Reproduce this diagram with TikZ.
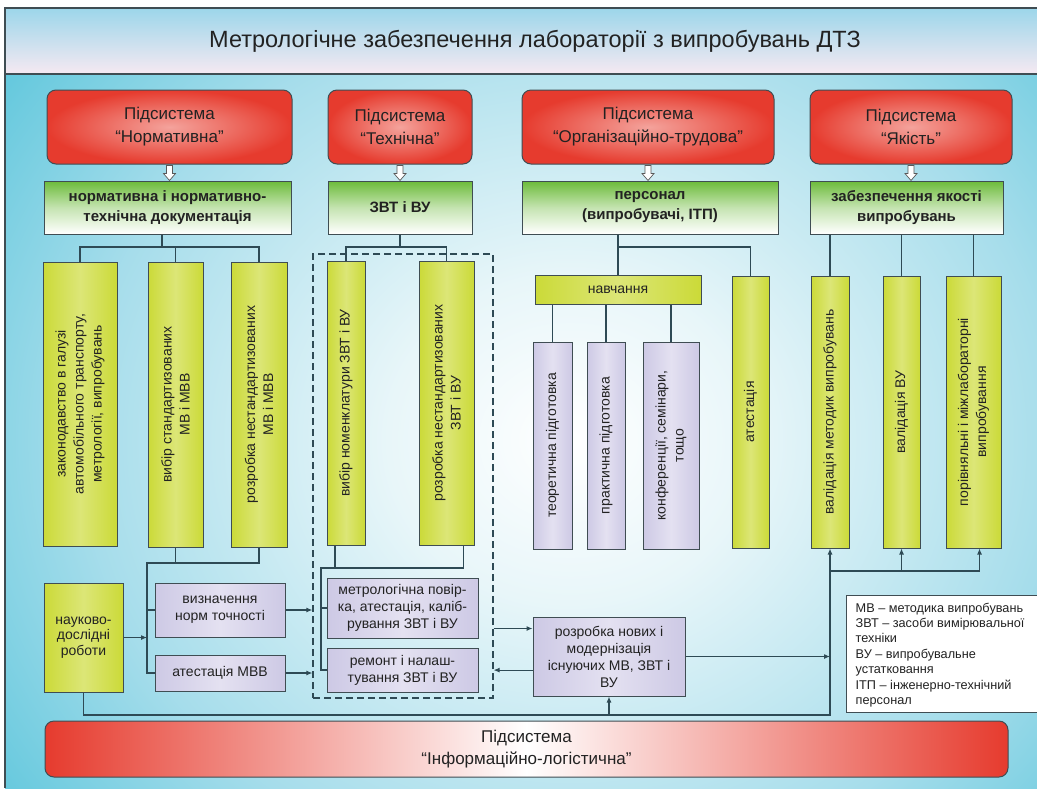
\documentclass[tikz,border=0pt]{standalone}
\usepackage{fontspec}
\setmainfont{Liberation Sans}
\usetikzlibrary{arrows.meta,calc}

\definecolor{bgc}{HTML}{50C2D9}
\definecolor{glowa}{HTML}{E8F6F9}
\definecolor{glowb}{HTML}{A6DDEB}
\definecolor{lnc}{HTML}{2E4A55}
\definecolor{bdc}{HTML}{3F4D53}
\definecolor{txt}{HTML}{222222}
\definecolor{ttop}{HTML}{9CD6EA}
\definecolor{tbot}{HTML}{F6E9F2}
\definecolor{redin}{HTML}{F4A39C}
\definecolor{redout}{HTML}{E63B2E}
\definecolor{grn}{HTML}{6CBB3A}
\definecolor{yel}{HTML}{CBDA38}
\definecolor{yelmid}{HTML}{DCE677}
\definecolor{pur}{HTML}{CDC9E5}
\definecolor{purmid}{HTML}{E4E1F1}

\pgfdeclareradialshading{glow}{\pgfpoint{0bp}{0bp}}{color(0bp)=(white); color(6bp)=(glowa); color(16bp)=(glowb); color(25bp)=(bgc); color(50bp)=(bgc)}

\newcommand\mkbox[7]{\node[#6, minimum width={(#4)-(#2)}, minimum height={(#5)-(#3)}] (#1) at ({((#2)+(#4))/2},{((#3)+(#5))/2}) {#7};}
\newcommand\hollowarrow[1]{\draw[hol] ($(#1.south)+(-3,1)$) -- ++(0,8) -- ++(-3,0) -- ++(6,7) -- ++(6,-7) -- ++(-3,0) -- ++(0,-8) -- cycle;}

\tikzset{
  redbox/.style={rounded corners=9pt, draw=bdc, line width=1pt, inner color=redin, outer color=redout, font=\fontsize{17}{23}\selectfont, text=txt, align=center, inner sep=0pt},
  greenbox/.style={draw=bdc, line width=1pt, top color=grn, bottom color=white, middle color=grn!40!white, font=\bfseries\fontsize{15}{20}\selectfont, text=txt, align=center, inner sep=0pt},
  ybox/.style={draw=bdc, line width=1pt, left color=yel, right color=yel, middle color=yelmid, inner sep=0pt, font=\fontsize{14}{15.5}\selectfont, text=txt, align=center},
  pbox/.style={draw=bdc, line width=1pt, left color=pur, right color=pur, middle color=purmid, inner sep=0pt, font=\fontsize{14}{17}\selectfont, text=txt, align=center},
  vtext/.style={rotate=90, align=center, font=\fontsize{14}{18}\selectfont, text=txt, inner sep=0pt},
  conn/.style={draw=lnc, line width=1.1pt},
  arr/.style={conn, -{Latex[length=6pt,width=5pt]}},
  hol/.style={fill=white, draw=gray!70!black, line width=0.7pt},
  dashbox/.style={draw=lnc, line width=1.2pt, dash pattern=on 7pt off 4pt, inner sep=0pt}
}

\begin{document}
\begin{tikzpicture}[x=1pt,y=-1pt]
\useasboundingbox (0,0) rectangle (1037,788);
% background
\begin{scope}
  \clip (5,8) rectangle (1037,788);
  \fill[bgc] (5,8) rectangle (1037,788);
  \shade[shading=glow] (570,440) ellipse (760 and 680);
\end{scope}
\shade[top color=ttop, bottom color=tbot] (5,8) rectangle (1037,74);
\draw[bdc, line width=1.2pt] (5,788) -- (5,8) -- (1037,8);
\draw[bdc, line width=1.2pt] (5,74) -- (1037,74);
\node[font=\fontsize{23.5}{28}\selectfont, text=txt] (title) at (535,41) {Метрологічне забезпечення лабораторії з випробувань ДТЗ};

% subsystems
\mkbox{r1}{47}{90}{292}{164}{redbox}{Підсистема\\“Нормативна”}
\mkbox{r2}{328}{90}{472}{164}{redbox}{Підсистема\\“Технічна”}
\mkbox{r3}{522}{90}{774}{164}{redbox}{Підсистема\\“Організаційно-трудова”}
\mkbox{r4}{810}{90}{1012}{164}{redbox}{Підсистема\\“Якість”}

\mkbox{g1}{44}{181}{291}{234}{greenbox}{нормативна і нормативно-\\технічна документація}
\mkbox{g2}{328}{181}{472}{234}{greenbox}{ЗВТ і ВУ}
\mkbox{g3}{522}{181}{778}{234}{greenbox}{персонал\\(випробувачі, ІТП)}
\mkbox{g4}{810}{181}{1003}{234}{greenbox}{забезпечення якості\\випробувань}

\foreach \n in {r1,r2,r3,r4} {\hollowarrow{\n}}

% dashed group
\mkbox{dash}{313}{254}{493}{698}{dashbox}{}

% tall boxes
\mkbox{y1}{43}{262}{117}{546}{ybox}{}
\node[vtext] (y1t) at (y1) {законодавство в галузі\\автомобільного транспорту,\\метрології, випробувань};
\mkbox{y2}{148}{262}{203}{547}{ybox}{}
\node[vtext] (y2t) at (y2) {вибір стандартизованих\\МВ і МВВ};
\mkbox{y3}{231}{262}{287}{547}{ybox}{}
\node[vtext] (y3t) at (y3) {розробка нестандартизованих\\МВ і МВВ};
\mkbox{y4}{327}{261}{365}{545}{ybox}{}
\node[vtext] (y4t) at (y4) {вибір номенклатури ЗВТ і ВУ};
\mkbox{y5}{419}{261}{474}{545}{ybox}{}
\node[vtext] (y5t) at (y5) {розробка нестандартизованих\\ЗВТ і ВУ};

\mkbox{nav}{535}{275}{701}{304}{ybox}{навчання}
\mkbox{p1}{533}{342}{572}{549}{pbox}{}
\node[vtext] (p1t) at (p1) {теоретична підготовка};
\mkbox{p2}{587}{342}{625}{549}{pbox}{}
\node[vtext] (p2t) at (p2) {практична підготовка};
\mkbox{p3}{643}{342}{699}{549}{pbox}{}
\node[vtext] (p3t) at (p3) {конференції, семінари,\\тощо};
\mkbox{y6}{732}{276}{769}{548}{ybox}{}
\node[vtext] (y6t) at (y6) {атестація};

\mkbox{q1}{811}{276}{849}{548}{ybox}{}
\node[vtext] (q1t) at (q1) {валідація методик випробувань};
\mkbox{q2}{883}{276}{920}{548}{ybox}{}
\node[vtext] (q2t) at (q2) {валідація ВУ};
\mkbox{q3}{946}{276}{1001}{548}{ybox}{}
\node[vtext] (q3t) at (q3) {порівняльні і міжлабораторні\\випробування};

% lower boxes
\mkbox{nd}{44}{583}{123}{692}{ybox}{науково-\\дослідні\\роботи}
\mkbox{v}{155}{583}{285}{637}{pbox}{визначення\\норм точності}
\mkbox{am}{155}{655}{285}{691}{pbox}{атестація МВВ}
\mkbox{m}{327}{578}{478}{638}{pbox}{метрологічна повір-\\ка, атестація, каліб-\\рування ЗВТ і ВУ}
\mkbox{rem}{327}{648}{478}{692}{pbox}{ремонт і налаш-\\тування ЗВТ і ВУ}
\mkbox{roz}{533}{617}{685}{696}{pbox}{розробка нових і\\модернізація\\існуючих МВ, ЗВТ і\\ВУ}

% legend
\mkbox{leg}{846}{595}{1040}{712}{draw=bdc, fill=white, line width=1pt, inner sep=0pt}{}
\node[anchor=north west, align=left, inner sep=0pt, font=\fontsize{12.7}{15.4}\selectfont, text=txt] (legt) at ($(leg.north west)+(10,8)$) {МВ – методика випробувань\\ЗВТ – засоби вимірювальної\\техніки\\ВУ – випробувальне\\устатковання\\ІТП – інженерно-технічний\\персонал};

% bottom bar
\node[rounded corners=9pt, draw=bdc, line width=1pt, left color=redout, right color=redout, middle color=white, minimum width=963, minimum height=56, inner sep=0pt, align=center, font=\fontsize{17}{22}\selectfont, text=txt] (bot) at (526.5,749) {Підсистема\\“Інформаційно-логістична”};

% connectors, top trees
\coordinate (j1) at (162,247);
\draw[conn] (g1.south -| j1) -- (j1);
\draw[conn] (y1.north) |- (j1) -| (y3.north);
\draw[conn] (y2.north) -- (y2.north |- j1);

\coordinate (j2) at (400,247);
\draw[conn] (g2.south) -- (j2);
\draw[conn] (y4.north) |- (j2) -| (y5.north);

\coordinate (j3) at (618,247);
\draw[conn] (g3.south -| nav.north) -- (nav.north);
\draw[conn] (nav.north |- j3) -| (y6.north);
\foreach \p in {p1,p2,p3} {\draw[conn] (\p.north) -- (\p.north |- nav.south);}
\foreach \q in {q1,q2,q3} {\draw[conn] (\q.north) -- (\q.north |- g4.south);}

% lower left
\coordinate (k1) at (147,563);
\draw[conn] (y3.south) |- (k1) -- (k1 |- am.west) -- (am.west);
\draw[conn] (y2.south) -- (y2.south |- k1);
\draw[conn] (k1 |- v.west) -- (v.west);
\draw[arr] (nd.east) -- (nd.east -| k1);
\draw[arr] (v.east) -- (v.east -| dash.west);
\draw[arr] (am.east) -- (am.east -| dash.west);

% inside dashed
\coordinate (k2) at (321,568);
\coordinate (y4b) at ([xshift=-11pt]y4.south);
\coordinate (y5b) at ([xshift=17pt]y5.south);
\draw[conn] (y5b) |- (k2) -- (k2 |- rem.west) -- (rem.west);
\draw[conn] (y4b) -- (y4b |- k2);
\draw[conn] (k2 |- m.west) -- (m.west);

% right side
\coordinate (bl) at (0,715);
\coordinate (hb) at (0,571);
\coordinate (q3b) at ([xshift=6pt]q3.south);
\draw[arr] (nd.south) |- (q1.south |- bl) -- (q1.south);
\draw[arr] (q1.south |- hb) -| (q2.south);
\draw[arr] (q2.south |- hb) -| (q3b);
\draw[arr] (roz.south |- bl) -- (roz.south);
\draw[arr] (roz.east) -- (roz.east -| q1.south);
\coordinate (ra) at ($(roz.north west)!0.15!(roz.south west)$);
\coordinate (rb) at ($(roz.north west)!0.67!(roz.south west)$);
\draw[arr] (ra -| dash.east) -- (ra);
\draw[arr] (rb) -- (rb -| dash.east);
\end{tikzpicture}
\end{document}
